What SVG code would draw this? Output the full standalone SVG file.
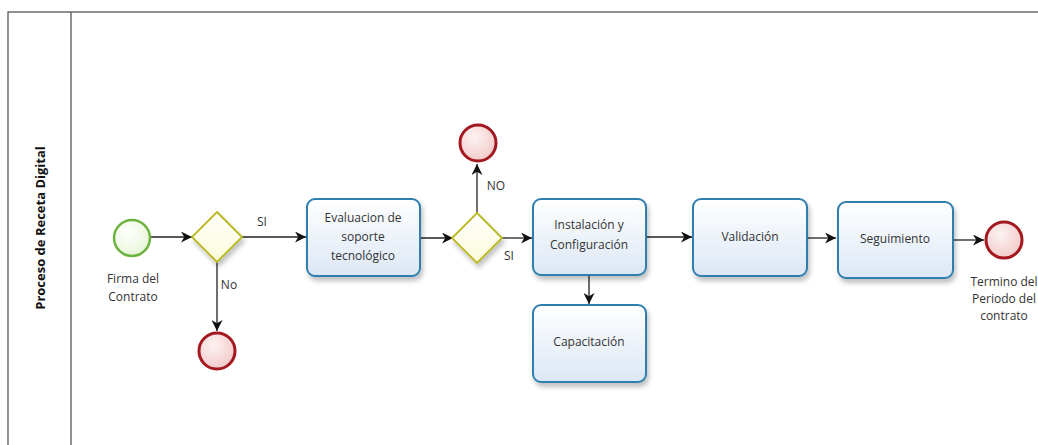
<svg xmlns="http://www.w3.org/2000/svg" width="1038" height="445" viewBox="0 0 1038 445">
  <defs>
    <linearGradient id="taskFill" x1="0" y1="0" x2="0" y2="1">
      <stop offset="0" stop-color="#ffffff"/>
      <stop offset="1" stop-color="#dce7f5"/>
    </linearGradient>
    <radialGradient id="startFill" cx="0.4" cy="0.35" r="0.7">
      <stop offset="0" stop-color="#ffffff"/>
      <stop offset="1" stop-color="#e6f5d5"/>
    </radialGradient>
    <radialGradient id="endFill" cx="0.4" cy="0.35" r="0.7">
      <stop offset="0" stop-color="#fdf2f2"/>
      <stop offset="1" stop-color="#f2c9c9"/>
    </radialGradient>
    <linearGradient id="gwFill" x1="0" y1="0" x2="0" y2="1">
      <stop offset="0" stop-color="#ffffff"/>
      <stop offset="1" stop-color="#fbfbd8"/>
    </linearGradient>
    <filter id="shadow" x="-10%" y="-10%" width="130%" height="140%">
      <feGaussianBlur in="SourceAlpha" stdDeviation="2.5"/>
      <feOffset dx="2" dy="4" result="b"/>
      <feComponentTransfer><feFuncA type="linear" slope="0.25"/></feComponentTransfer>
      <feMerge><feMergeNode/><feMergeNode in="SourceGraphic"/></feMerge>
    </filter>
    <marker id="arrow" viewBox="0 0 10 10" refX="10" refY="5" markerWidth="11" markerHeight="11" markerUnits="userSpaceOnUse" orient="auto">
      <path d="M0,0 L10,5 L0,10 L3,5 z" fill="#111"/>
    </marker>
  </defs>
  <style>
    .lbl { font-family: "Open Sans", "Noto Sans", sans-serif; font-size: 12px; fill: #333; text-anchor: middle; }
    .task { fill: url(#taskFill); stroke: #2f7fae; stroke-width: 2; filter: url(#shadow); }
    .start { fill: url(#startFill); stroke: #6db33f; stroke-width: 2.5; }
    .end { fill: url(#endFill); stroke: #a3191f; stroke-width: 3; }
    .gw { fill: url(#gwFill); stroke: #b8b820; stroke-width: 1.8; filter: url(#shadow); }
    .flow { fill: none; stroke: #222; stroke-width: 1.3; marker-end: url(#arrow); }
    .pool { fill: #ffffff; stroke: #555; stroke-width: 1.3; }
  </style>

  <rect width="1038" height="445" fill="#ffffff"/>

  <!-- pool and lane header -->
  <g id="pool">
    <rect class="pool" x="8" y="12" width="1040" height="450"/>
    <line x1="71" y1="12" x2="71" y2="445" stroke="#555" stroke-width="1.3"/>
    <text transform="translate(45,228) rotate(-90)" font-family="'Open Sans', 'Noto Sans', sans-serif" font-size="13" font-weight="bold" fill="#111" text-anchor="middle">Proceso de Receta Digital</text>
  </g>

  <!-- connectors -->
  <g id="connectors">
    <line class="flow" x1="151" y1="237" x2="192" y2="237"/>
    <line class="flow" x1="242" y1="237" x2="306" y2="237"/>
    <line class="flow" x1="217" y1="262" x2="217" y2="331"/>
    <line class="flow" x1="420" y1="238" x2="453" y2="238"/>
    <line class="flow" x1="477" y1="213" x2="477" y2="164"/>
    <line class="flow" x1="502" y1="238" x2="532" y2="238"/>
    <line class="flow" x1="589" y1="275" x2="589" y2="304"/>
    <line class="flow" x1="646" y1="237" x2="692" y2="237"/>
    <line class="flow" x1="807" y1="238" x2="836" y2="238"/>
    <line class="flow" x1="953" y1="240" x2="984" y2="240"/>
    <text class="lbl" x="262" y="226">SI</text>
    <text class="lbl" x="229" y="289">No</text>
    <text class="lbl" x="496" y="190">NO</text>
    <text class="lbl" x="509" y="260">SI</text>
  </g>

  <!-- start event -->
  <g id="start">
    <circle class="start" cx="132" cy="238" r="18"/>
    <text class="lbl" x="133" y="283">Firma del</text>
    <text class="lbl" x="133" y="301">Contrato</text>
  </g>

  <!-- gateway 1 -->
  <g id="gateway1">
    <polygon class="gw" points="217,212 242,237 217,262 192,237"/>
  </g>

  <!-- end event after "No" -->
  <g id="end1">
    <circle class="end" cx="217" cy="351" r="18"/>
  </g>

  <!-- task: evaluacion -->
  <g id="evaluacion">
    <rect class="task" x="307" y="199" width="113" height="77" rx="8"/>
    <text class="lbl" x="363" y="222">Evaluacion de</text>
    <text class="lbl" x="363" y="241">soporte</text>
    <text class="lbl" x="363" y="260">tecnológico</text>
  </g>

  <!-- gateway 2 -->
  <g id="gateway2">
    <polygon class="gw" points="477,213 502,238 477,263 452,238"/>
  </g>

  <!-- end event after "NO" -->
  <g id="end2">
    <circle class="end" cx="478" cy="143" r="18"/>
  </g>

  <!-- task: instalacion -->
  <g id="instalacion">
    <rect class="task" x="533" y="199" width="113" height="76" rx="8"/>
    <text class="lbl" x="589" y="229">Instalación y</text>
    <text class="lbl" x="589" y="249">Configuración</text>
  </g>

  <!-- task: capacitacion -->
  <g id="capacitacion">
    <rect class="task" x="533" y="305" width="113" height="77" rx="8"/>
    <text class="lbl" x="589" y="346">Capacitación</text>
  </g>

  <!-- task: validacion -->
  <g id="validacion">
    <rect class="task" x="693" y="199" width="114" height="77" rx="8"/>
    <text class="lbl" x="750" y="241">Validación</text>
  </g>

  <!-- task: seguimiento -->
  <g id="seguimiento">
    <rect class="task" x="838" y="202" width="115" height="76" rx="8"/>
    <text class="lbl" x="895" y="243">Seguimiento</text>
  </g>

  <!-- end event -->
  <g id="end3">
    <circle class="end" cx="1004" cy="240" r="18"/>
    <text class="lbl" x="1004" y="286" font-size="11.5">Termino del</text>
    <text class="lbl" x="1004" y="303" font-size="11.5">Periodo del</text>
    <text class="lbl" x="1004" y="320" font-size="11.5">contrato</text>
  </g>
</svg>
